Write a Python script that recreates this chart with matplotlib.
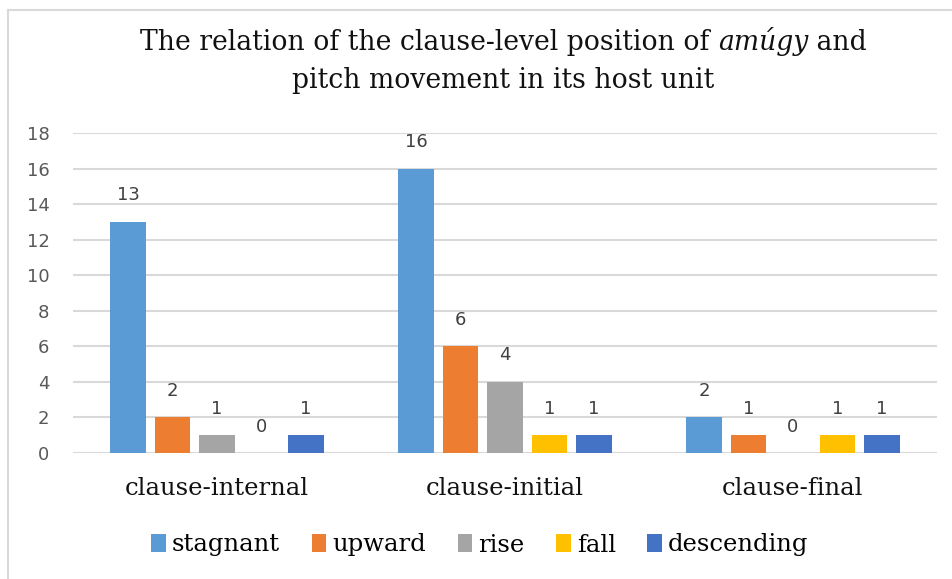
import numpy as np
import matplotlib
matplotlib.use("Agg")
import matplotlib.pyplot as plt
from matplotlib.lines import Line2D

categories = ["clause-internal", "clause-initial", "clause-final"]
series_names = ["stagnant", "upward", "rise", "fall", "descending"]
stagnant = [13, 16, 2]
upward = [2, 6, 1]
rise = [1, 4, 0]
fall = [0, 1, 1]
descending = [1, 1, 1]
yticks = [0, 2, 4, 6, 8, 10, 12, 14, 16, 18]

colors = ["#5B9BD5", "#ED7D31", "#A5A5A5", "#FFC000", "#4472C4"]
serif = "DejaVu Serif"
sans = "DejaVu Sans"

fig = plt.figure(figsize=(9.53, 5.79), dpi=100)
ax = fig.add_axes([73 / 953, 1 - 453 / 579, 864 / 953, 320 / 579])

x = np.arange(len(categories))
width = 0.122
pitch = 0.1545
all_series = [stagnant, upward, rise, fall, descending]
handles = []
for i, (vals, name, c) in enumerate(zip(all_series, series_names, colors)):
    pos = x + (i - 2) * pitch
    b = ax.bar(pos, vals, width, color=c, label=name, zorder=3)
    handles.append(b)
    for p, v in zip(pos, vals):
        ax.annotate(str(v), (p, v), xytext=(0, 19), textcoords="offset points",
                    ha="center", va="center", fontsize=13, color="#404040",
                    family=sans)

ax.set_xlim(-0.5, 2.5)
ax.set_ylim(0, 18)
ax.set_yticks(yticks)
ax.yaxis.grid(True, color="#D9D9D9", linewidth=1.5, zorder=0)
ax.set_axisbelow(True)
for s in ax.spines.values():
    s.set_visible(False)
ax.tick_params(length=0)
ax.tick_params(axis="y", labelsize=13, labelcolor="#595959", pad=17)
for t in ax.get_yticklabels():
    t.set_family(sans)
ax.set_xticks(x)
ax.set_xticklabels(categories, family=serif, fontsize=17.5, color="#111111")
ax.tick_params(axis="x", pad=17)

# title, with italic word
fig.canvas.draw()
r = fig.canvas.get_renderer()
tsize = 19.2
parts = [("The relation of the clause-level position of ", "normal"),
         ("amúgy", "italic"), (" and", "normal")]
texts = [fig.text(0, 0, s, fontsize=tsize, family=serif, style=st, va="center",
                  color="#111111") for s, st in parts]
widths = [t.get_window_extent(r).width for t in texts]
total = sum(widths)
xpos = 953 / 2 + 27 - total / 2
for t, w in zip(texts, widths):
    t.set_position((xpos / 953, 1 - 42 / 579))
    xpos += w
fig.text((953 / 2 + 27) / 953, 1 - 80 / 579, "pitch movement in its host unit",
         fontsize=tsize, family=serif, ha="center", va="center", color="#111111")

leg = fig.legend(handles=handles, labels=series_names, loc="center",
                 bbox_to_anchor=(480 / 953, 1 - 545 / 579), ncol=5, frameon=False,
                 prop={"family": serif, "size": 17.5}, handlelength=0.6,
                 handleheight=0.7, handletextpad=0.25, columnspacing=1.3)

fig.add_artist(Line2D([8 / 953, 8 / 953], [0, 1 - 10 / 579],
                      transform=fig.transFigure, color="#D9D9D9", lw=1.5))
fig.add_artist(Line2D([8 / 953, 1], [1 - 10 / 579, 1 - 10 / 579],
                      transform=fig.transFigure, color="#D9D9D9", lw=1.5))

fig.savefig("out.png", dpi=100)
